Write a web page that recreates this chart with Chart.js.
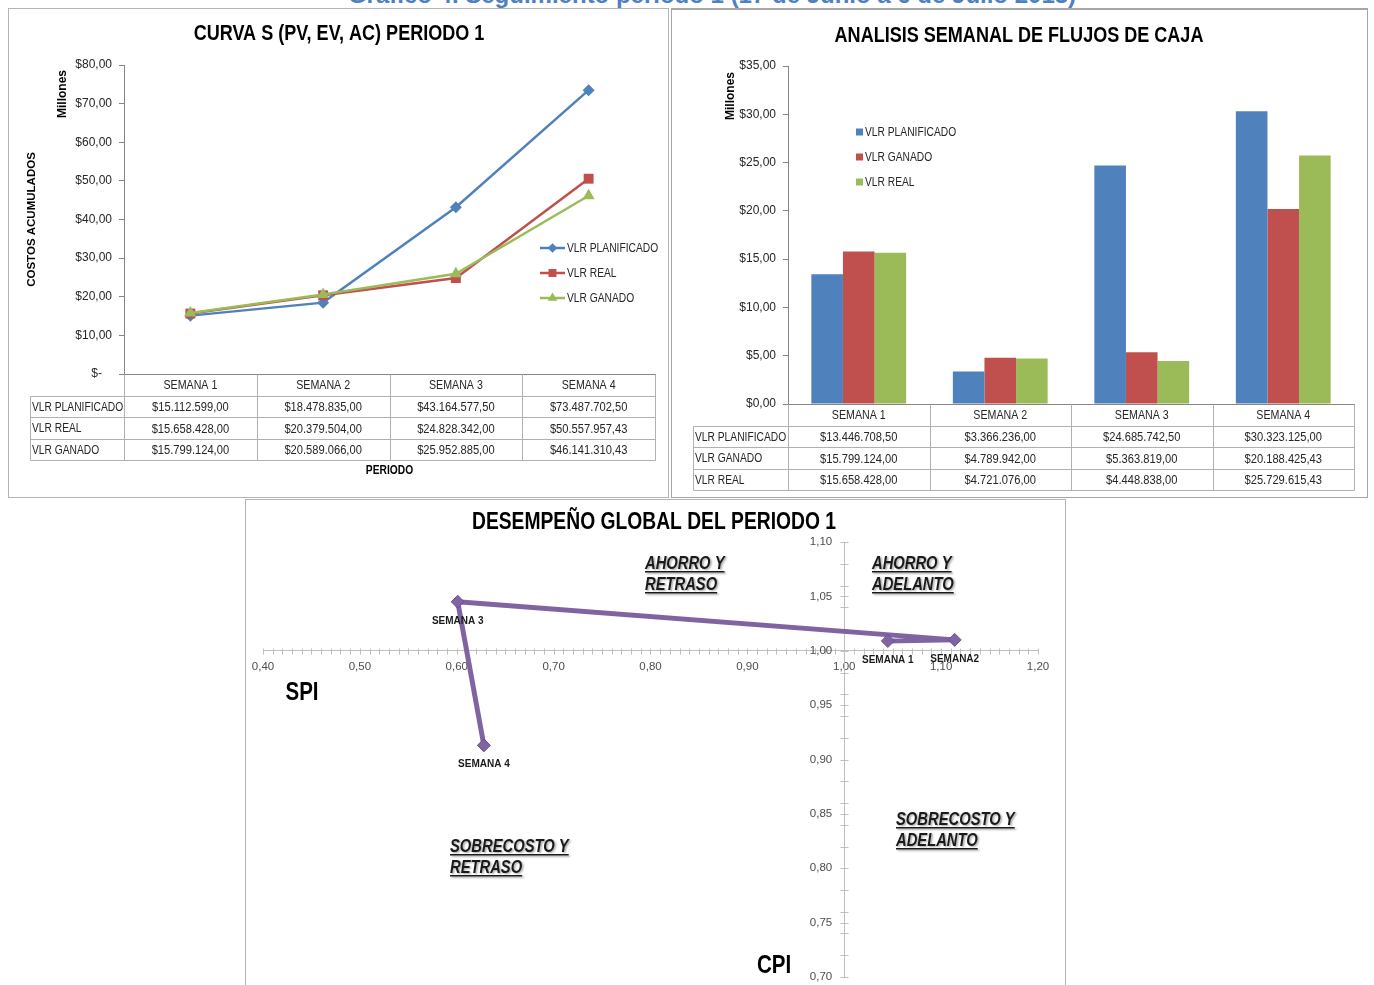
<!DOCTYPE html>
<html lang="es">
<head>
<meta charset="utf-8">
<title>Seguimiento periodo 1</title>
<script src="https://cdn.jsdelivr.net/npm/chart.js@4.4.1/dist/chart.umd.min.js"></script>
<style>
  html, body { margin: 0; padding: 0; background: #fff; }
  body { width: 1374px; height: 985px; overflow: hidden; position: relative; }
  #encabezado {
    position: absolute; left: 25px; top: -19px; width: 1374px; text-align: center;
    font: bold 24px "Liberation Sans", Arial, sans-serif; color: #4f81bd;
    white-space: nowrap; line-height: 28px;
  }
  .panel { position: absolute; box-sizing: border-box; background: #fff; border: 1px solid #b4b4b4; }
  .panel canvas { position: absolute; left: 0; top: 0; }
  #p1 { left: 8px; top: 8px; width: 661px; height: 490px; }
  #p2 { left: 671px; top: 8px; width: 697px; height: 490px; border-top: 2px solid #a0a0a0; border-color: #a6a6a6; }
  #p3 { left: 245px; top: 499px; width: 821px; height: 500px; }
</style>
</head>
<body>
<div id="encabezado">Gráfico 4. Seguimiento periodo 1 (17 de Junio a 6 de Julio 2013)</div>
<div class="panel" id="p1"><canvas id="curvaS" width="659" height="488"></canvas></div>
<div class="panel" id="p2"><canvas id="flujos" width="695" height="487"></canvas></div>
<div class="panel" id="p3"><canvas id="desempeno" width="819" height="486"></canvas></div>

<script>
// ---- Datos ----
const semanas = ['SEMANA 1', 'SEMANA 2', 'SEMANA 3', 'SEMANA 4'];

// Costos acumulados (pesos)
const acumPlanificado = [15112599.00, 18478835.00, 43164577.50, 73487702.50];
const acumReal        = [15658428.00, 20379504.00, 24828342.00, 50557957.43];
const acumGanado      = [15799124.00, 20589066.00, 25952885.00, 46141310.43];

// Flujos semanales (pesos)
const semPlanificado = [13446708.50, 3366236.00, 24685742.50, 30323125.00];
const semGanado      = [15799124.00, 4789942.00, 5363819.00, 20188425.43];
const semReal        = [15658428.00, 4721076.00, 4448838.00, 25729615.43];

// Indices de desempeño por semana
const spi = [1.045, 1.114, 0.601, 0.628];
const cpi = [1.009, 1.010, 1.045, 0.913];
const etiquetasPuntos = ['SEMANA 1', 'SEMANA2', 'SEMANA 3', 'SEMANA 4'];

// ---- Estilo ----
const AZUL = '#4f81bd', ROJO = '#c0504d', VERDE = '#9bbb59', MORADO = '#8064a2';
const EJE = '#868686', REJILLA = '#b0b0b0', TEXTO = '#262626';
const FA = '"Liberation Sans", Arial, sans-serif';
const ANGOSTO = 0.82;   // compresión horizontal para el texto estrecho

function moneda(v) {
  const [ent, dec] = v.toFixed(2).split('.');
  return '$' + ent.replace(/\B(?=(\d{3})+(?!\d))/g, '.') + ',' + dec;
}
const millones = v => '$' + v.toFixed(2).replace('.', ',');
const coma = v => v.toFixed(2).replace('.', ',');
const multiplo = (v, m) => Math.abs(v / m - Math.round(v / m)) < 1e-6;
const aMillones = arr => arr.map(v => v / 1e6);

// Texto estrecho: se dibuja con escala horizontal reducida
function texto(ctx, t, x, y, font, align = 'left', color = TEXTO, k = ANGOSTO) {
  ctx.save();
  ctx.font = font;
  ctx.textBaseline = 'middle';
  ctx.textAlign = 'left';
  const w = ctx.measureText(t).width * k;
  const x0 = align === 'center' ? x - w / 2 : align === 'right' ? x - w : x;
  ctx.translate(x0, y);
  ctx.scale(k, 1);
  ctx.fillStyle = color;
  ctx.fillText(t, 0, 0);
  ctx.restore();
  return w;
}

function marca(ctx, estilo, x, y, r, color) {
  ctx.save();
  ctx.fillStyle = color;
  ctx.beginPath();
  if (estilo === 'rectRot') {
    ctx.moveTo(x, y - r); ctx.lineTo(x + r, y); ctx.lineTo(x, y + r); ctx.lineTo(x - r, y);
  } else if (estilo === 'rect') {
    const s = r * Math.SQRT1_2;
    ctx.rect(x - s, y - s, 2 * s, 2 * s);
  } else {
    ctx.moveTo(x, y - r); ctx.lineTo(x + r * 0.87, y + r * 0.5); ctx.lineTo(x - r * 0.87, y + r * 0.5);
  }
  ctx.closePath();
  ctx.fill();
  ctx.restore();
}

function linea(ctx, x1, y1, x2, y2) {
  ctx.beginPath();
  ctx.moveTo(Math.round(x1) + 0.5, Math.round(y1) + 0.5);
  ctx.lineTo(Math.round(x2) + 0.5, Math.round(y2) + 0.5);
  ctx.stroke();
}

function textoRotado(ctx, txt, x, y, font) {
  ctx.save();
  ctx.translate(x, y);
  ctx.rotate(-Math.PI / 2);
  ctx.font = font;
  ctx.fillStyle = '#000';
  ctx.textAlign = 'center';
  ctx.textBaseline = 'middle';
  ctx.fillText(txt, 0, 0);
  ctx.restore();
}

// Tabla de datos bajo el eje de categorías
function tablaDatos(chart, filas, izquierda, altoFila) {
  const { ctx, chartArea: a, scales: { x } } = chart;
  const medio = (x.getPixelForValue(1) - x.getPixelForValue(0)) / 2;
  const bordes = semanas.map((_, i) => x.getPixelForValue(i) - medio);
  bordes.push(x.getPixelForValue(semanas.length - 1) + medio);
  const top = a.bottom;
  const fin = top + altoFila * (filas.length + 1);
  ctx.save();
  ctx.strokeStyle = REJILLA;
  ctx.lineWidth = 1;
  for (let r = 1; r <= filas.length + 1; r++) linea(ctx, izquierda, top + r * altoFila, bordes[bordes.length - 1], top + r * altoFila);
  bordes.forEach(b => linea(ctx, b, top, b, fin));
  linea(ctx, izquierda, top + altoFila, izquierda, fin);
  ctx.restore();
  semanas.forEach((s, i) => texto(ctx, s, x.getPixelForValue(i), top + altoFila / 2 + 1, '13px ' + FA, 'center'));
  filas.forEach((fila, r) => {
    const yc = top + altoFila * (r + 1.5) + 1;
    texto(ctx, fila.nombre, izquierda + 2, yc, '12.5px ' + FA);
    fila.valores.forEach((v, i) => texto(ctx, moneda(v), x.getPixelForValue(i), yc, '13.6px ' + FA, 'center'));
  });
  return fin;
}

// ---- Curva S ----
new Chart(document.getElementById('curvaS'), {
  type: 'line',
  data: {
    labels: semanas,
    datasets: [
      { label: 'VLR PLANIFICADO', data: aMillones(acumPlanificado), borderColor: AZUL, backgroundColor: AZUL,
        pointStyle: 'rectRot', pointRadius: 6, order: 3 },
      { label: 'VLR REAL', data: aMillones(acumReal), borderColor: ROJO, backgroundColor: ROJO,
        pointStyle: 'rect', pointRadius: 7, order: 2 },
      { label: 'VLR GANADO', data: aMillones(acumGanado), borderColor: VERDE, backgroundColor: VERDE,
        pointStyle: 'triangle', pointRadius: 7, order: 1 }
    ].map(d => Object.assign(d, { borderWidth: 2.5, tension: 0, pointBorderWidth: 0, fill: false }))
  },
  options: {
    responsive: false, animation: false, devicePixelRatio: 1,
    layout: { padding: { left: 0, right: 13, top: 56, bottom: 0 } },
    plugins: { legend: { display: false }, tooltip: { enabled: false } },
    scales: {
      x: { offset: true, grid: { display: false }, border: { display: true, color: EJE },
           ticks: { display: false }, afterFit(s) { s.height = 123; } },
      y: { min: 0, max: 80,
           ticks: { stepSize: 10, callback: v => v === 0 ? '$-\u00a0\u00a0\u00a0' : millones(v), color: TEXTO,
                    font: { family: FA, size: 12 }, padding: 7 },
           grid: { display: true, drawOnChartArea: false, tickLength: 5, color: EJE },
           border: { display: true, color: EJE },
           afterFit(s) { s.width = 115; } }
    }
  },
  plugins: [{
    id: 'decoracionCurva',
    afterDraw(chart) {
      const { ctx, chartArea: a } = chart;
      texto(ctx, 'CURVA S (PV, EV, AC) PERIODO 1', 330, 25, 'bold 22px ' + FA, 'center', '#000');
      textoRotado(ctx, 'COSTOS ACUMULADOS', 23, (a.top + a.bottom) / 2, 'bold 11.5px ' + FA);
      textoRotado(ctx, 'Millones', 54, 85, 'bold 12px ' + FA);
      const fin = tablaDatos(chart, [
        { nombre: 'VLR PLANIFICADO', valores: acumPlanificado },
        { nombre: 'VLR REAL', valores: acumReal },
        { nombre: 'VLR GANADO', valores: acumGanado }
      ], 21, 21.5);
      texto(ctx, 'PERIODO', (a.left + a.right) / 2, fin + 11, 'bold 12.5px ' + FA, 'center', '#000');
      // leyenda
      ctx.save();
      chart.data.datasets.forEach((d, i) => {
        const yc = 239 + i * 25;
        ctx.strokeStyle = d.borderColor;
        ctx.lineWidth = 2.5;
        ctx.beginPath(); ctx.moveTo(531, yc); ctx.lineTo(556, yc); ctx.stroke();
        marca(ctx, d.pointStyle, 543.5, yc, d.pointRadius * 0.8, d.borderColor);
        texto(ctx, d.label, 558, yc + 1, '12.5px ' + FA);
      });
      ctx.restore();
    }
  }]
});

// ---- Flujos semanales ----
new Chart(document.getElementById('flujos'), {
  type: 'bar',
  data: {
    labels: semanas,
    datasets: [
      { label: 'VLR PLANIFICADO', data: aMillones(semPlanificado), backgroundColor: AZUL },
      { label: 'VLR GANADO', data: aMillones(semGanado), backgroundColor: ROJO },
      { label: 'VLR REAL', data: aMillones(semReal), backgroundColor: VERDE }
    ].map(d => Object.assign(d, { categoryPercentage: 0.67, barPercentage: 1, borderWidth: 0 }))
  },
  options: {
    responsive: false, animation: false, devicePixelRatio: 1,
    layout: { padding: { left: 0, right: 13, top: 56, bottom: 0 } },
    plugins: { legend: { display: false }, tooltip: { enabled: false } },
    scales: {
      x: { grid: { display: false }, border: { display: true, color: EJE },
           ticks: { display: false }, afterFit(s) { s.height = 93; } },
      y: { min: 0, max: 35,
           ticks: { stepSize: 5, callback: v => millones(v), color: TEXTO,
                    font: { family: FA, size: 12 }, padding: 7 },
           grid: { display: true, drawOnChartArea: false, tickLength: 5, color: EJE },
           border: { display: true, color: EJE },
           afterFit(s) { s.width = 116; } }
    }
  },
  plugins: [{
    id: 'decoracionFlujos',
    afterDraw(chart) {
      const { ctx } = chart;
      texto(ctx, 'ANALISIS SEMANAL DE FLUJOS DE CAJA', 347, 26, 'bold 22px ' + FA, 'center', '#000');
      textoRotado(ctx, 'Millones', 59, 86, 'bold 12px ' + FA);
      tablaDatos(chart, [
        { nombre: 'VLR PLANIFICADO', valores: semPlanificado },
        { nombre: 'VLR GANADO', valores: semGanado },
        { nombre: 'VLR REAL', valores: semReal }
      ], 21, 21.5);
      ctx.save();
      chart.data.datasets.forEach((d, i) => {
        const yc = 122 + i * 25;
        ctx.fillStyle = d.backgroundColor;
        ctx.fillRect(184, yc - 3.5, 7, 7);
        texto(ctx, d.label, 193, yc + 1, '12.5px ' + FA);
      });
      ctx.restore();
    }
  }]
});

// ---- Desempeño global ----
const cuadrantes = [
  { lineas: ['AHORRO Y', 'RETRASO'], x: 399, y: 64 },
  { lineas: ['AHORRO Y', 'ADELANTO'], x: 626, y: 64 },
  { lineas: ['SOBRECOSTO Y', 'RETRASO'], x: 204, y: 347 },
  { lineas: ['SOBRECOSTO Y', 'ADELANTO'], x: 650, y: 320 }
];

new Chart(document.getElementById('desempeno'), {
  type: 'line',
  data: {
    datasets: [{
      label: 'Desempeño',
      data: spi.map((s, i) => ({ x: s, y: cpi[i] })),
      borderColor: MORADO, backgroundColor: MORADO, borderWidth: 5, tension: 0,
      pointStyle: 'rectRot', pointRadius: 6.5, pointBorderColor: '#6b5190', pointBorderWidth: 1
    }]
  },
  options: {
    responsive: false, animation: false, devicePixelRatio: 1,
    layout: { padding: { left: 17, right: 27, top: 42, bottom: 9 } },
    plugins: { legend: { display: false }, tooltip: { enabled: false } },
    scales: {
      x: { type: 'linear', min: 0.4, max: 1.2, position: { y: 1 },
           ticks: { stepSize: 0.01, autoSkip: false, maxRotation: 0, includeBounds: true,
                    callback: v => multiplo(v, 0.1) ? coma(v) : '',
                    color: '#4d4d4d', font: { family: FA, size: 11.5 }, padding: 1 },
           grid: { display: false, drawTicks: true, tickLength: 8 },
           border: { display: true, color: '#bfbfbf' } },
      y: { type: 'linear', min: 0.7, max: 1.1, position: { x: 1 },
           ticks: { stepSize: 0.01, autoSkip: false, includeBounds: true, display: false },
           grid: { display: false, drawTicks: true, tickLength: 8 },
           border: { display: true, color: '#bfbfbf' } }
    }
  },
  plugins: [{
    id: 'marcasEjes',
    beforeDatasetsDraw(chart) {
      const { ctx, scales: { x, y } } = chart;
      const ejeY = y.getPixelForValue(1), ejeX = x.getPixelForValue(1);
      ctx.save();
      ctx.strokeStyle = '#bfbfbf';
      ctx.lineWidth = 1;
      x.ticks.forEach(t => { const px = x.getPixelForValue(t.value); linea(ctx, px, ejeY - 3, px, ejeY + 3); });
      y.ticks.forEach(t => {
        if (multiplo(t.value, 0.02) || multiplo(t.value, 0.05)) {
          const py = y.getPixelForValue(t.value);
          linea(ctx, ejeX - 4, py, ejeX + 4, py);
        }
      });
      ctx.restore();
      // etiquetas del eje CPI
      ctx.save();
      ctx.font = '11.5px ' + FA;
      ctx.fillStyle = '#4d4d4d';
      ctx.textAlign = 'right';
      ctx.textBaseline = 'middle';
      y.ticks.forEach(t => {
        if (multiplo(t.value, 0.05)) ctx.fillText(coma(t.value), ejeX - 12, y.getPixelForValue(t.value));
      });
      ctx.restore();
    },
    afterDraw(chart) {
      const { ctx } = chart;
      texto(ctx, 'DESEMPEÑO GLOBAL DEL PERIODO 1', 408, 23, 'bold 23.5px ' + FA, 'center', '#000');
      ctx.save();
      // etiquetas de los puntos
      ctx.font = 'bold 10px ' + FA;
      ctx.fillStyle = '#1a1a1a';
      ctx.textAlign = 'center';
      ctx.textBaseline = 'middle';
      chart.getDatasetMeta(0).data.forEach((p, i) => ctx.fillText(etiquetasPuntos[i], p.x, p.y + 19));
      ctx.restore();
      // nombres de ejes
      texto(ctx, 'SPI', 56, 193, 'bold 25px ' + FA, 'center', '#000');
      texto(ctx, 'CPI', 528, 466, 'bold 25px ' + FA, 'center', '#000');
      // cuadrantes
      const fq = 'italic bold 18px ' + FA;
      cuadrantes.forEach(q => {
        q.lineas.forEach((t, k) => {
          const yc = q.y + k * 21;
          ctx.save();
          ctx.shadowColor = 'rgba(0,0,0,0.35)';
          ctx.shadowOffsetX = 1.5; ctx.shadowOffsetY = 1.5; ctx.shadowBlur = 2;
          const w = texto(ctx, t, q.x, yc, fq, 'left', '#1a1a1a');
          ctx.fillStyle = '#1a1a1a';
          ctx.fillRect(q.x, yc + 7, w, 1.5);
          ctx.restore();
        });
      });
    }
  }]
});
</script>
</body>
</html>
